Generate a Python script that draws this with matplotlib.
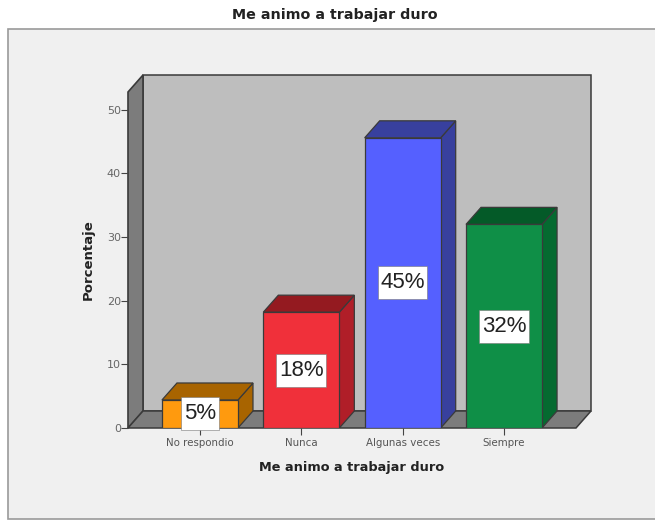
"""Me animo a trabajar duro: 3D-look SPSS bar chart."""
import matplotlib

matplotlib.use("Agg")
import matplotlib.pyplot as plt
from matplotlib.patches import Polygon, Rectangle

W, H = 655, 521

categories = ["No respondio", "Nunca", "Algunas veces", "Siempre"]
values = [4.4, 18.2, 45.6, 32.0]
labels = ["5%", "18%", "45%", "32%"]
front = ["#FF9A0E", "#F0303A", "#5560FF", "#0F8F47"]
top = ["#A86400", "#941A20", "#38409E", "#045A28"]
side = ["#A86400", "#B01E28", "#38409E", "#056A30"]
yticks = [0, 10, 20, 30, 40, 50]

# depth of the fake 3d, in data units (15px across, 17px up)
PX_X, PX_Y = 101.3, 6.36
DX = 15 / PX_X
DY = 17 / PX_Y
BAR_W = 0.75
XMIN, XMAX = -0.71, 3.71
YTOP = 52.8

plt.rcParams["font.family"] = ["DejaVu Sans"]

fig = plt.figure(figsize=(W / 100, H / 100), dpi=100, facecolor="white")

# chart frame runs off the right and bottom of the image
fig.add_artist(Rectangle((8 / W, 2 / H), 650 / W, 1 - 31 / H, transform=fig.transFigure,
                         facecolor="#F0F0F0", edgecolor="#9A9A9A", linewidth=1.2, zorder=-1))

ax = fig.add_axes([128 / W, 1 - 428 / H, 463 / W, 353 / H])
ax.set_xlim(XMIN, XMAX + DX)
ax.set_ylim(0, YTOP + DY)
ax.patch.set_alpha(0)
for spine in ax.spines.values():
    spine.set_visible(False)

EDGE = "#3A3A3A"
# back wall, left wall, floor
ax.add_patch(Polygon([(XMIN + DX, DY), (XMAX + DX, DY), (XMAX + DX, YTOP + DY), (XMIN + DX, YTOP + DY)],
                     facecolor="#BEBEBE", edgecolor=EDGE, linewidth=1.1, clip_on=False))
ax.add_patch(Polygon([(XMIN, 0), (XMIN + DX, DY), (XMIN + DX, YTOP + DY), (XMIN, YTOP)],
                     facecolor="#7C7C7C", edgecolor=EDGE, linewidth=1.2, clip_on=False))
ax.add_patch(Polygon([(XMIN, 0), (XMAX, 0), (XMAX + DX, DY), (XMIN + DX, DY)],
                     facecolor="#7C7C7C", edgecolor=EDGE, linewidth=1.1, clip_on=False))

renderer = fig.canvas.get_renderer()
for i, v in enumerate(values):
    x0, x1 = i - BAR_W / 2, i + BAR_W / 2
    ax.add_patch(Polygon([(x1, 0), (x1 + DX, DY), (x1 + DX, v + DY), (x1, v)],
                         facecolor=side[i], edgecolor=EDGE, linewidth=0.9, zorder=3))
    ax.add_patch(Polygon([(x0, v), (x1, v), (x1 + DX, v + DY), (x0 + DX, v + DY)],
                         facecolor=top[i], edgecolor=EDGE, linewidth=0.9, zorder=3))
    ax.add_patch(Rectangle((x0, 0), BAR_W, v, facecolor=front[i], edgecolor=EDGE,
                           linewidth=0.9, zorder=4))
    yc = max(v / 2, 2.3)
    t = ax.text(i, yc, labels[i], ha="center", va="center", fontsize=16, family="Liberation Sans",
                color="#222222", zorder=6)
    # label box is much taller than its text, so a plain bbox pad won't do
    box_w = (t.get_window_extent(renderer).width + 5) / PX_X
    box_h = 33 / PX_Y
    ax.add_patch(Rectangle((i - box_w / 2, yc - box_h / 2), box_w, box_h, facecolor="white",
                           edgecolor="#777777", linewidth=0.4, zorder=5, clip_on=False))

ax.set_xticks(range(len(categories)), categories)
ax.set_yticks(yticks)
ax.tick_params(axis="x", length=5, width=0.8, color="#444444", labelsize=7.4,
               labelcolor="#555555", pad=2)
ax.tick_params(axis="y", length=5, width=0.8, color="#444444", labelsize=8,
               labelcolor="#666666", pad=0)

ax.set_xlabel("Me animo a trabajar duro", fontsize=9.3, fontweight="bold", color="#222222")
ax.xaxis.set_label_coords((352 - 128) / 463, (428 - 461) / 353)
ax.set_ylabel("Porcentaje", fontsize=9.5, fontweight="bold", color="#222222")
ax.yaxis.set_label_coords((95 - 128) / 463, (428 - 260) / 353)

fig.text(335 / W, 1 - 15 / H, "Me animo a trabajar duro", ha="center", va="center",
         fontsize=10.3, fontweight="bold", color="#222222")

fig.savefig("out.png", dpi=100, facecolor="white")
